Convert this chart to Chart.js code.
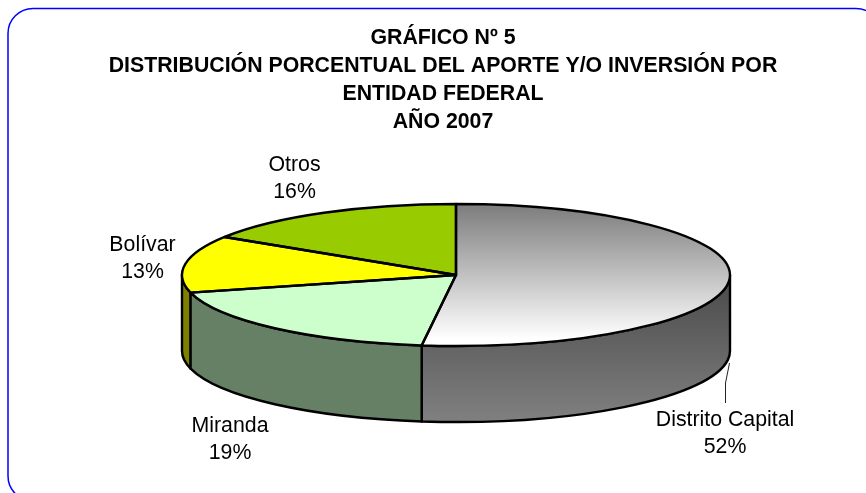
<!DOCTYPE html>
<html><head><meta charset="utf-8">
<script src="https://cdn.jsdelivr.net/npm/chart.js@4"></script>
<style>html,body{margin:0;padding:0;background:#fff}canvas{display:block}</style>
</head><body>
<div style="width:866px;height:493px"><canvas id="c" width="866" height="493"></canvas></div>
<script>
const categories = ['Distrito Capital','Miranda','Bolívar','Otros'];
const percentages = [52,19,13,16];
const titleLines = ['GRÁFICO Nº 5','DISTRIBUCIÓN PORCENTUAL DEL APORTE Y/O INVERSIÓN POR','ENTIDAD FEDERAL','AÑO 2007'];
const topColors = ['#808080','#CCFFCC','#FFFF00','#99CC00'];
const wallColors = ['#404040','#668066','#808000','#4D6600'];
const labelCentres = [[725,420],[230,426],[142.5,245],[294.5,165]];

const RX = 274, RY = 71, DEPTH = 76, CX = 456, CY = 275, FONT = '"Liberation Sans", Arial, sans-serif';

function dcTop(ctx){
  const g = ctx.createLinearGradient(0,CY-RX,0,CY+RX);
  g.addColorStop(0.03,'#808080'); g.addColorStop(0.95,'#FFFFFF'); return g;
}
function dcWall(ctx){
  const g = ctx.createLinearGradient(0,250,0,CY+RY+DEPTH);
  g.addColorStop(0,'#404040'); g.addColorStop(1,'#808080'); return g;
}

const pie3d = {
  id:'pie3d',
  beforeDraw(chart){
    const ctx = chart.ctx;
    ctx.save();
    ctx.fillStyle='#fff'; ctx.fillRect(0,0,chart.width,chart.height);
    ctx.strokeStyle='#0000FF'; ctx.lineWidth=1.5;
    ctx.beginPath(); ctx.roundRect(8,8.5,873,492.5,25); ctx.stroke();
    ctx.restore();
  },
  afterLayout(chart){
    chart.titleBlock.left -= 13; chart.titleBlock.right -= 13;
  },
  beforeDatasetsDraw(chart){
    const ctx = chart.ctx, arcs = chart.getDatasetMeta(0).data;
    ctx.save();
    ctx.lineWidth=2.4; ctx.strokeStyle='#000'; ctx.lineJoin='round';
    [0,2,1].forEach(i=>{
      const a = Math.max(arcs[i].startAngle,0), b = Math.min(arcs[i].endAngle,Math.PI);
      if (b<=a) return;
      ctx.beginPath();
      ctx.ellipse(CX,CY,RX,RY,0,a,b);
      ctx.ellipse(CX,CY+DEPTH,RX,RY,0,b,a,true);
      ctx.closePath();
      ctx.fillStyle = i===0 ? dcWall(ctx) : wallColors[i];
      ctx.fill(); ctx.stroke();
    });
    ctx.restore();
    ctx.save();
    ctx.translate(CX,CY); ctx.scale(1,RY/RX); ctx.translate(-CX,-CY);
  },
  afterDatasetsDraw(chart){
    const ctx = chart.ctx, arcs = chart.getDatasetMeta(0).data;
    ctx.restore();
    ctx.save();
    ctx.lineWidth=2.4; ctx.strokeStyle='#000'; ctx.lineJoin='round';
    arcs.forEach(arc=>{
      ctx.beginPath(); ctx.moveTo(CX,CY);
      ctx.ellipse(CX,CY,RX,RY,0,arc.startAngle,arc.endAngle);
      ctx.closePath(); ctx.stroke();
    });
    ctx.lineWidth=1; ctx.strokeStyle='#222';
    ctx.beginPath(); ctx.moveTo(729.5,363); ctx.lineTo(725.5,383); ctx.lineTo(725.5,403); ctx.stroke();
    ctx.fillStyle='#000'; ctx.font='21.3px '+FONT; ctx.textAlign='center'; ctx.textBaseline='middle';
    categories.forEach((name,i)=>{
      const [x,y]=labelCentres[i];
      ctx.fillText(name,x,y);
      ctx.fillText(percentages[i]+'%',x,y+27);
    });
    ctx.restore();
  }
};

new Chart(document.getElementById('c'),{
  type:'pie',
  data:{labels:categories,datasets:[{
    data:percentages,
    backgroundColor:c=> c.dataIndex===0 ? dcTop(c.chart.ctx) : topColors[c.dataIndex],
    borderWidth:0, clip:false
  }]},
  options:{
    responsive:false,animation:false,radius:RX,
    layout:{padding:{left:46,right:0,top:24.5,bottom:74}},
    plugins:{
      legend:{display:false},tooltip:{enabled:false},
      title:{display:true,text:titleLines,color:'#000',padding:0,
        font:{family:FONT,size:21.3,weight:'bold',lineHeight:1.31}}
    }
  },
  plugins:[pie3d]
});
</script>
</body></html>
